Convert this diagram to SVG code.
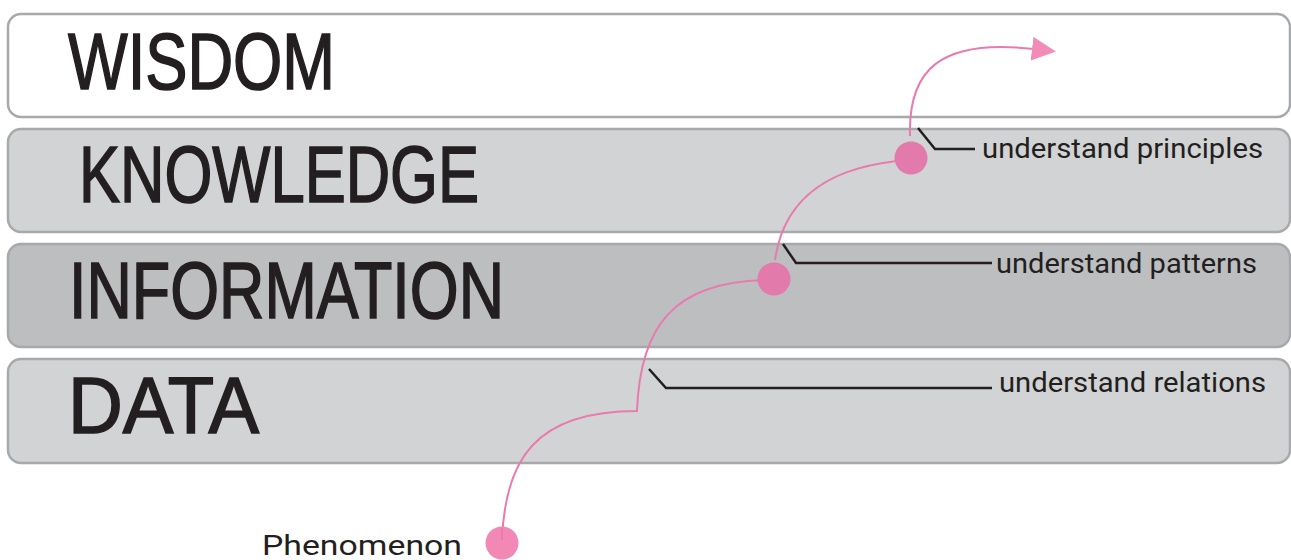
<svg xmlns="http://www.w3.org/2000/svg" width="1291" height="560" viewBox="0 0 1291 560">
<style>
.band{stroke:#a7a9ac;stroke-width:2.5}
.title{font-family:"Liberation Sans",Arial,sans-serif;font-size:80px;fill:#231f20;stroke:#231f20;stroke-width:1.6}
.label{font-family:Roboto,"Liberation Sans",sans-serif;font-size:28px;fill:#231f20}
.leader{fill:none;stroke:#231f20;stroke-width:2.5}
.flow{fill:none;stroke:#e97aad;stroke-width:2}
.dot{fill:#e27aab}
</style>
<defs>
<marker id="arr" viewBox="0 0 24 24" refX="2" refY="12" markerWidth="24" markerHeight="24" markerUnits="userSpaceOnUse" orient="auto">
<path d="M0,0 L24,12 L0,24 Z" fill="#f38bb8"/>
</marker>
</defs>
<rect width="1291" height="560" fill="#ffffff"/>
<g id="wisdom">
<rect class="band" x="8" y="14" width="1282" height="103" rx="13" fill="#ffffff"/>
<text class="title" x="68" y="89" textLength="267" lengthAdjust="spacingAndGlyphs">WISDOM</text>
</g>
<g id="knowledge">
<rect class="band" x="8" y="129" width="1282" height="103" rx="13" fill="#d1d3d4"/>
<text class="title" x="79" y="202" textLength="400" lengthAdjust="spacingAndGlyphs">KNOWLEDGE</text>
</g>
<g id="information">
<rect class="band" x="8" y="244" width="1282" height="103" rx="13" fill="#bcbec0"/>
<text class="title" x="69" y="318" textLength="435" lengthAdjust="spacingAndGlyphs">INFORMATION</text>
</g>
<g id="data">
<rect class="band" x="8" y="359" width="1282" height="104" rx="13" fill="#d1d3d4"/>
<text class="title" x="68" y="433" textLength="191" lengthAdjust="spacingAndGlyphs">DATA</text>
</g>
<g id="connectors">
<path class="leader" d="M918,128 L935,149 L975,149"/>
<path class="leader" d="M783,244 L796,263 L992,263"/>
<path class="leader" d="M649,369 L666,388 L992,388"/>
<path class="flow" d="M502,540 C505,460 535,411 637,411 C640,330 670,280 772,280"/>
<path class="flow" d="M775,260 C785,190 840,165 908,160"/>
<path class="flow" d="M910,136 C908,70 940,38 1034,49" marker-end="url(#arr)"/>
</g>
<g id="phenomenon">
<circle cx="502" cy="543" r="16.5" fill="#f288b5"/>
<path class="flow" d="M502,540 L502,528"/>
<text class="label" x="262" y="555" font-family="Open Sans" textLength="200" lengthAdjust="spacingAndGlyphs">Phenomenon</text>
</g>
<g id="info-dot">
<circle class="dot" cx="774" cy="279" r="16.5"/>
</g>
<g id="knowledge-dot">
<circle class="dot" cx="911" cy="158" r="16.5"/>
</g>
<g id="label-principles">
<text class="label" x="982" y="158" textLength="281" lengthAdjust="spacingAndGlyphs">understand principles</text>
</g>
<g id="label-patterns">
<text class="label" x="996" y="273" textLength="261" lengthAdjust="spacingAndGlyphs">understand patterns</text>
</g>
<g id="label-relations">
<text class="label" x="999" y="392" textLength="267" lengthAdjust="spacingAndGlyphs">understand relations</text>
</g>
</svg>
